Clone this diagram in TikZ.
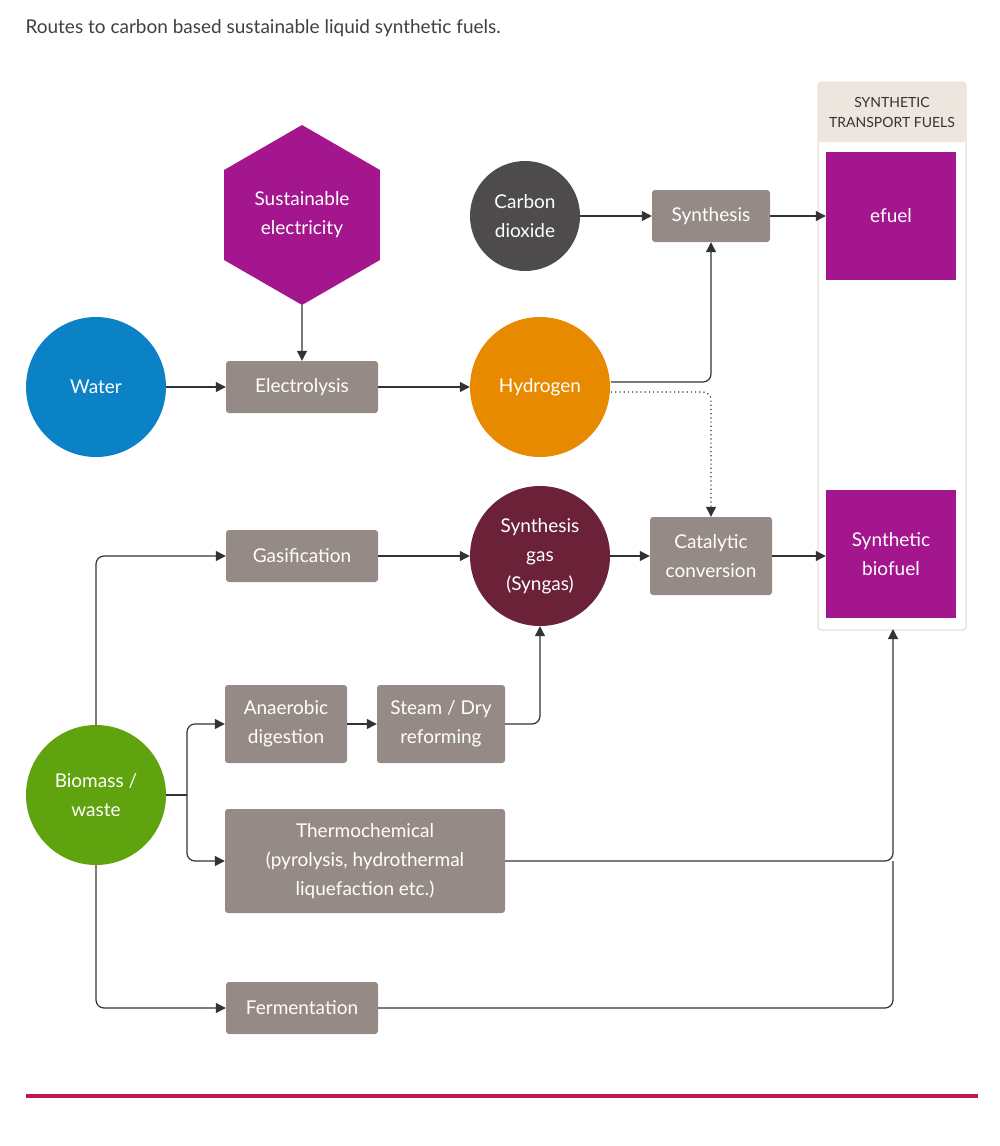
\documentclass[tikz,border=0pt]{standalone}
\usepackage{fontspec}
\setmainfont{Lato}
\usetikzlibrary{shapes.geometric,arrows.meta}
\definecolor{fuelpurple}{HTML}{A3168E}
\definecolor{cotwo}{HTML}{4D4B4C}
\definecolor{stepgray}{HTML}{958A85}
\definecolor{waterblue}{HTML}{0B82C6}
\definecolor{hydorange}{HTML}{E88A00}
\definecolor{syngasred}{HTML}{6B2238}
\definecolor{biogreen}{HTML}{5FA30F}
\definecolor{rulered}{HTML}{C0174C}
\definecolor{headbeige}{HTML}{EDE6DE}
\definecolor{linegray}{HTML}{333333}
\tikzset{
  src/.style = {circle, fill=#1, text=white, minimum size=140pt,
                inner sep=0pt, align=center},
  proc/.style = {rectangle, rounded corners=3pt, fill=stepgray, text=white,
                 inner sep=0pt, align=center},
  fuel/.style = {rectangle, fill=fuelpurple, text=white, minimum width=130pt,
                 minimum height=128pt, inner sep=0pt, align=center},
  flow/.style = {draw=linegray, line width=1.2pt, rounded corners=8pt,
                 -{Triangle[length=10pt,width=10pt]}}
}
\begin{document}
\begin{tikzpicture}[x=1pt, y=-1pt, font=\fontsize{19}{29}\selectfont]
	\useasboundingbox (0,0) rectangle (1000,1146);

	% Title and rule
	\node[anchor=west, text=black!75, font=\fontsize{19}{22}\selectfont] (title) at (22,28) {Routes to carbon based sustainable liquid synthetic fuels.};
	\fill[rulered] (26,1094) rectangle (978,1098);

	% Fuel column
	\filldraw[draw=headbeige, fill=white, line width=1.5pt, rounded corners=3pt] (818,82) rectangle (966,630);
	\fill[headbeige, rounded corners=3pt] (818,82) rectangle (966,142);
	\node[align=center, text=black!80, font=\fontsize{14}{20}\selectfont] (head) at (892,112) {SYNTHETIC\\TRANSPORT FUELS};
	\node[fuel] (efuel) at (891,216) {efuel};
	\node[fuel] (biofuel) at (891,554) {Synthetic\\biofuel};

	% Sources
	\node[regular polygon, regular polygon sides=6, shape border rotate=30, fill=fuelpurple,
	      text=white, minimum size=180pt, inner sep=0pt, align=center] (elec) at (302,215) {Sustainable\\electricity};
	\node[src=cotwo, minimum size=110pt] (co2) at (525,216) {Carbon\\dioxide};
	\node[src=waterblue] (water) at (96,387) {Water};
	\node[src=hydorange] (hydrogen) at (540,387) {Hydrogen};
	\node[src=syngasred] (syngas) at (540,556) {Synthesis\\gas\\(Syngas)};
	\node[src=biogreen] (biomass) at (96,795) {Biomass /\\waste};

	% Process steps
	\node[proc, minimum width=118pt, minimum height=52pt] (synth) at (711,216) {Synthesis};
	\node[proc, minimum width=152pt, minimum height=52pt] (electro) at (302,387) {Electrolysis};
	\node[proc, minimum width=152pt, minimum height=52pt] (gasif) at (302,556) {Gasification};
	\node[proc, minimum width=122pt, minimum height=78pt] (catal) at (711,556) {Catalytic\\conversion};
	\node[proc, minimum width=122pt, minimum height=78pt] (anaer) at (286,724) {Anaerobic\\digestion};
	\node[proc, minimum width=128pt, minimum height=78pt] (steam) at (441,724) {Steam / Dry\\reforming};
	\node[proc, minimum width=280pt, minimum height=104pt] (thermo) at (365,861) {Thermochemical\\(pyrolysis, hydrothermal\\liquefaction etc.)};
	\node[proc, minimum width=152pt, minimum height=52pt] (ferm) at (302,1008) {Fermentation};

	% Helper points
	\coordinate (bioin) at (893,629);
	\coordinate (split) at (187,795);
	\coordinate (h2up) at (611,382);
	\coordinate (h2down) at (611,392);

	% Hydrogen route
	\draw[flow] (elec.south) -- (electro.north);
	\draw[flow] (water) -- (electro);
	\draw[flow] (electro) -- (hydrogen);
	\draw[flow] (co2) -- (synth);
	\draw[flow] (synth) -- (efuel);
	\draw[flow] (h2up) -- (synth.south |- h2up) -- (synth.south);
	\draw[flow, line width=1.2pt, dash pattern=on 1.2pt off 3pt] (h2down) -- (catal.north |- h2down) -- (catal.north);

	% Biomass routes
	\draw[flow] (gasif) -- (syngas);
	\draw[flow] (syngas) -- (catal);
	\draw[flow] (catal) -- (biofuel.west |- catal);
	\draw[flow] (biomass.north) -- (biomass.north |- gasif) -- (gasif.west);
	\draw[draw=linegray, line width=1.2pt] (biomass.east) -- (split);
	\draw[flow] (split) -- (split |- anaer) -- (anaer.west);
	\draw[flow] (split) -- (split |- thermo) -- (thermo.west);
	\draw[flow] (anaer) -- (steam);
	\draw[flow] (steam.east) -- (syngas.south |- steam) -- (syngas.south);
	\draw[flow] (thermo.east) -- (bioin |- thermo) -- (bioin);
	\draw[flow] (biomass.south) -- (biomass.south |- ferm) -- (ferm.west);
	\draw[draw=linegray, line width=1.2pt, rounded corners=8pt] (ferm.east) -- (bioin |- ferm) -- (bioin |- thermo);
\end{tikzpicture}
\end{document}
